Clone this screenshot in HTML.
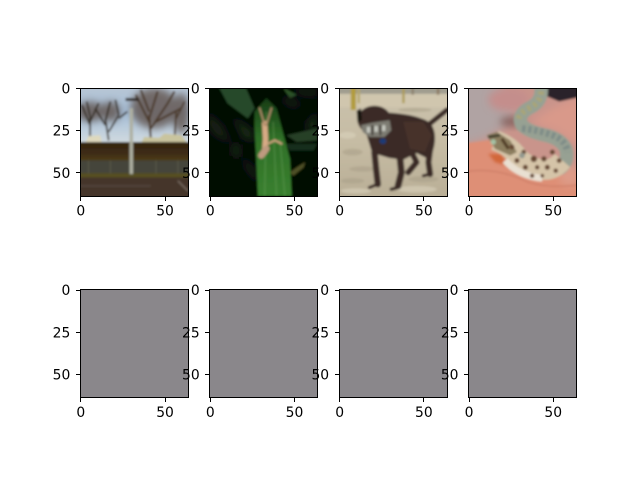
<!DOCTYPE html>
<html>
<head>
<meta charset="utf-8">
<title>Image grid</title>
<style>
html,body{margin:0;padding:0;background:#fff;width:640px;height:480px;overflow:hidden}
svg text{font-family:"DejaVu Sans","Liberation Sans",sans-serif;font-size:13.89px;fill:#000}
</style>
</head>
<body>
<svg id="figure" xmlns="http://www.w3.org/2000/svg" width="640" height="480" viewBox="0 0 640 480" style="display:block">
<defs>
<filter id="soft" x="-10%" y="-10%" width="120%" height="120%"><feGaussianBlur stdDeviation="0.7"/></filter>
<filter id="softer" x="-40%" y="-40%" width="180%" height="180%"><feGaussianBlur stdDeviation="2.2"/></filter>
<linearGradient id="sky1" x1="0" y1="0" x2="0" y2="1"><stop offset="0" stop-color="#bcc8d4"/><stop offset=".5" stop-color="#a5bed8"/><stop offset="1" stop-color="#d5dde0"/></linearGradient>
<linearGradient id="hedge1" x1="0" y1="0" x2="0" y2="1"><stop offset="0" stop-color="#33230f"/><stop offset=".6" stop-color="#3e2c14"/><stop offset="1" stop-color="#4f3f1b"/></linearGradient>
<linearGradient id="leaf2" x1="0" y1="0" x2="0" y2="1"><stop offset="0" stop-color="#173c16"/><stop offset=".4" stop-color="#2f6f27"/><stop offset="1" stop-color="#39802f"/></linearGradient>
<linearGradient id="sand3" x1="0" y1="0" x2="0" y2="1"><stop offset="0" stop-color="#cbc3ae"/><stop offset=".5" stop-color="#c6bca4"/><stop offset="1" stop-color="#b8ad95"/></linearGradient>
</defs>

<svg id="photo-0" viewBox="0 0 64 64" preserveAspectRatio="none">
<g filter="url(#soft)">
<rect x="-4" y="-4" width="72" height="38" fill="url(#sky1)"/>
<g fill="#5b4c42" opacity=".75" filter="url(#softer)"><ellipse cx="6" cy="14" rx="9" ry="6"/><ellipse cx="18" cy="14" rx="6" ry="6"/><ellipse cx="44" cy="12" rx="14" ry="12"/><ellipse cx="60" cy="15" rx="5" ry="12"/></g>
<g fill="none" stroke="#33291f" stroke-width="1">
<path d="M6 31L6 17M6 22L1 10M6 20L11 9M6 17L4 8"/>
<path d="M17 31L15 18M15 22L9 12M15 20L18 8M17 26L23 16M23 16L21 7M23 18L28 14"/>
</g>
<g fill="none" stroke="#4c3a2c" stroke-width="1.2">
<path d="M42 31L41 16M41 20L33 4M41 18L46 2M42 24L52 9M52 9L56 2M45 20L60 12M41 14L36 1"/>
<path d="M56 31L57 14M57 18L62 8" stroke-width="1"/>
</g>
<path d="M3 33L5 28.5L12 28L13 33Z" fill="#ded9bd"/>
<path d="M36 33L38 29L47 29.5L50 27L60 28L64 33Z" fill="#c9c49e"/>
<rect x="-4" y="32" width="72" height="11.5" fill="url(#hedge1)"/>
<rect x="-4" y="43" width="72" height="9" fill="#45443a"/>
<g stroke="#5e5e4f" stroke-width=".5"><path d="M5 43V51M18 43V51M30 43V51M45 43V51M58 43V51"/></g>
<rect x="-4" y="50.5" width="72" height="2.6" fill="#565020"/>
<rect x="-4" y="53" width="72" height="15" fill="#45342b"/>
<path d="M0 58H42" stroke="#564a3f" stroke-width=".7"/>
<path d="M58 55L64 61" stroke="#7c7064" stroke-width=".8"/>
<rect x="29.4" y="12" width="2" height="39" fill="#aeb0a2"/>
<path d="M27 6.8H35" stroke="#2a241e" stroke-width="1.6"/>
</g>
</svg>

<svg id="photo-1" viewBox="0 0 64 64" preserveAspectRatio="none">
<g filter="url(#soft)">
<rect x="-4" y="-4" width="72" height="72" fill="#060805"/>
<path d="M5 -2L21 -2L27 12L23 18L11 9Z" fill="#27492a"/>
<g filter="url(#softer)" opacity=".8">
<path d="M0 15L8 22L13 33L3 28L-2 20Z" fill="#14261a"/>
<path d="M14 17L25 24L28 32L20 30Z" fill="#16301a"/>
<path d="M14 33L18 34L18 41L14 40Z" fill="#1d3a1c"/>
<path d="M20 40L29 50L28 56L22 48Z" fill="#12261a"/>
</g>
<path d="M44 0L52 4L48 6Z" fill="#345c2c"/>
<g filter="url(#softer)" opacity=".8">
<path d="M50 0L64 0L64 5L54 4Z" fill="#14241a"/>
<path d="M46 4L54 9L52 12L44 9Z" fill="#13241a"/>
<path d="M58 20L64 14L64 24L58 27Z" fill="#16301f"/>
</g>
<path d="M46 28L64 24L64 31L52 32Z" fill="#273f25"/>
<path d="M45 33L64 33L62 37L48 37Z" fill="#172f1a"/>
<path d="M48 50L52 47L57 44L56 47L50 52Z" fill="#4f5127"/>
<path d="M34 6L40 12L44 27L48 42L49 64L29 64L28 42L27 24L27 14Z" fill="url(#leaf2)"/>
<g stroke="#7fb268" stroke-width=".4" opacity=".6" fill="none"><path d="M34 14L33 64M38 20L40 64M42 30L45 64"/></g>
<g fill="none" stroke="#c9a07c" stroke-linecap="round">
<path d="M33 38L33.5 30L33 21" stroke-width="3.2" stroke="#d7aa85"/>
<path d="M31 40L34 36" stroke-width="3.8" stroke="#bf9a7f"/>
<path d="M33 22L30 12" stroke-width="1.1" stroke="#ab8a68"/>
<path d="M34 22L37 12" stroke-width="1.1" stroke="#ab8a68"/>
<path d="M35 33L39 31L43 33" stroke-width="1.2"/>
</g>
</g>
</svg>

<svg id="photo-2" viewBox="0 0 64 64" preserveAspectRatio="none">
<g filter="url(#soft)">
<rect x="-4" y="-4" width="72" height="72" fill="url(#sand3)"/>
<rect x="-4" y="-4" width="72" height="7.5" fill="#a09d8f"/>
<rect x="-4" y="3.5" width="72" height="8" fill="#d0c6ae"/>
<g fill="#a99f88" opacity=".55"><ellipse cx="8" cy="38" rx="6" ry="2"/><ellipse cx="14" cy="48" rx="8" ry="1.6"/><ellipse cx="50" cy="54" rx="9" ry="1.8"/><ellipse cx="8" cy="55" rx="7" ry="1.6"/><ellipse cx="45" cy="13" rx="10" ry="1.2"/></g>
<g fill="#dbd3bd" opacity=".6"><ellipse cx="46" cy="60" rx="12" ry="2"/><ellipse cx="10" cy="61" rx="9" ry="1.6"/><ellipse cx="5" cy="28" rx="5" ry="2"/></g>
<rect x="7" y="-2" width="3" height="15" fill="#b29c3c"/>
<rect x="11" y="0" width="1.4" height="9" fill="#b5a76a"/>
<rect x="37.5" y="-2" width="1.4" height="11" fill="#ad9c57"/>
<rect x="43" y="-2" width="1.4" height="6" fill="#8d826e"/>
<rect x="58" y="-2" width="1.4" height="6" fill="#8d7a62"/>
<g fill="#3a2a26" stroke="#3a2a26" stroke-linecap="round" stroke-linejoin="round">
<ellipse cx="21" cy="19" rx="10" ry="8.5" stroke="none"/>
<path d="M24 15Q40 15 50 19Q58 22 56 34L54 42L46 38L38 42L30 41L20 38L17 28Z" stroke-width="1"/>
<path d="M54 21L64 13" stroke-width="3" fill="none"/>
<path d="M21 38L22 48L23 57" stroke-width="3.8" fill="none"/>
<path d="M23 57L18 59" stroke-width="1.8" fill="none"/>
<path d="M36 40L37 50L35 58" stroke-width="4" fill="none"/>
<path d="M35 59L31 60" stroke-width="2" fill="none"/>
<path d="M43 38L46 44L41 50" stroke-width="3.4" fill="none"/>
<path d="M54 36L53 44L54 51" stroke-width="3.6" fill="none"/>
<path d="M54 51L50 52" stroke-width="1.8" fill="none"/>
</g>
<path d="M10.5 13.5L13 12L13.5 19L11 20.5Z" fill="#191210"/>
<path d="M38 20L50 20L55 28L51 38L42 36Z" fill="#46332b"/>
<path d="M13 22L20 20.5L30 19L31 25L27 29L18 29L14 26Z" fill="#7d7c72"/>
<g fill="#c6c8bf"><rect x="16.5" y="23" width="2" height="3.5"/><rect x="21" y="22.5" width="2" height="3.5"/><rect x="25.5" y="22" width="2" height="3.5"/></g>
<g fill="#38322e"><rect x="19.3" y="22" width="1" height="6"/><rect x="24" y="22" width="1" height="6"/></g>
<ellipse cx="26" cy="31.5" rx="2" ry="1.7" fill="#1e3a76"/>
</g>
</svg>

<svg id="photo-3" viewBox="0 0 64 64" preserveAspectRatio="none">
<g filter="url(#soft)">
<rect x="-4" y="-4" width="72" height="72" fill="#c9948b"/>
<path d="M-4 -4H18L28 14L24 22L10 30L-4 34Z" fill="#b0a3a3" filter="url(#softer)"/>
<ellipse cx="24" cy="7" rx="12" ry="7" fill="#c48e8c" filter="url(#softer)"/>
<ellipse cx="26" cy="20" rx="7" ry="3" fill="#86625f" filter="url(#softer)"/>
<path d="M38 20L50 12L66 5L68 36L54 26Z" fill="#d9998a" filter="url(#softer)"/>
<path d="M44 -4H68V5L54 8L47 5Z" fill="#2b2329"/>
<path d="M-4 33L12 31L28 38L48 54L68 48V68H-4Z" fill="#de8f76"/>
<ellipse cx="60" cy="52" rx="6" ry="6" fill="#dd9b88" filter="url(#softer)"/>
<path d="M-4 50Q16 46 36 56Q50 60 68 57" fill="none" stroke="#cf8069" stroke-width=".8"/>
<path d="M12 39L20 39L23 46L16 44Z" fill="#d2673a" filter="url(#soft)"/>
<path d="M43 -2Q45 8 36 12Q29 16 32 22Q36 26 46 28Q55 30 58 36Q60 44 54 48" fill="none" stroke="#97a193" stroke-width="8"/>
<path d="M43 -2Q45 8 36 12Q29 16 30 20" fill="none" stroke="#a9a577" stroke-width="3.5" stroke-dasharray="2 2"/>
<path d="M32 24Q42 25 50 28Q58 31 59 38" fill="none" stroke="#7f8c88" stroke-width="4" stroke-dasharray="2 1.6"/>
<path d="M16 31Q24 34 28 39Q33 46 42 48Q50 50 56 43" fill="none" stroke="#d5c4a8" stroke-width="12"/>
<path d="M22 43Q30 52 44 53.5" fill="none" stroke="#e9e0d2" stroke-width="4"/>
<path d="M11 28L17 26L25 31L29 38L25 40L16 36Z" fill="#8c7e5e"/>
<path d="M12 29L19 28" stroke="#3a3a2a" stroke-width="1.5"/>
<circle cx="15" cy="32" r="1.6" fill="#a5c2a5"/>
<path d="M20 30L24 36" stroke="#4f3a24" stroke-width="1.8"/>
<g fill="#664630">
<circle cx="26" cy="35" r="1.5"/><circle cx="33" cy="38" r="1.4"/><circle cx="39" cy="42" r="1.9"/><circle cx="45" cy="42" r="1.6"/><circle cx="50" cy="38" r="1.5"/><circle cx="54" cy="43" r="1.4"/><circle cx="29" cy="43" r="1.5"/><circle cx="34" cy="47" r="1.5"/><circle cx="41" cy="47" r="1.3"/><circle cx="47" cy="47" r="1.5"/><circle cx="38" cy="52" r="1.3"/><circle cx="44" cy="52" r="1.1"/><circle cx="52" cy="49" r="1.3"/>
</g>
<circle cx="32" cy="40" r="1.7" fill="#93998f"/>
</g>
</svg>

<script>
var imageSize = 64;
var xTickValues = [0, 50];
var yTickValues = [0, 25, 50];
var axesLefts = [80, 209.4, 338.8, 468.2];
var axesTops = [87.7, 289.3];
var axesSide = 107.8;
var blankColor = '#8a878b';
var svgNS = 'http://www.w3.org/2000/svg';
var fig = document.getElementById('figure');

function xScale(left, v) { return left + (v + 0.5) / imageSize * axesSide; }
function yScale(top, v) { return top + (v + 0.5) / imageSize * axesSide; }
function snap(v) { return Math.floor(v) + 0.5; }
function make(tag, attrs) {
  var el = document.createElementNS(svgNS, tag);
  for (var k in attrs) { el.setAttribute(k, attrs[k]); }
  return el;
}

function drawAxes(row, col) {
  var left = axesLefts[col], top = axesTops[row];
  var idx = row * 4 + col;
  var g = make('g', {});
  
  
  fig.appendChild(g);

  var x0 = Math.round(left), y0 = Math.round(top);
  var x1 = Math.round(left + axesSide), y1 = Math.round(top + axesSide);

  if (row === 0) {
    var photo = document.getElementById('photo-' + col);
    photo.setAttribute('x', x0);
    photo.setAttribute('y', y0);
    photo.setAttribute('width', x1 - x0);
    photo.setAttribute('height', y1 - y0);
    g.appendChild(photo);
  } else {
    var blank = make('rect', { x: x0, y: y0, width: x1 - x0, height: y1 - y0, fill: blankColor });
    
    
    g.appendChild(blank);
  }

  var frame = make('rect', { x: x0 + 0.5, y: y0 + 0.5, width: x1 - x0, height: y1 - y0, fill: 'none', stroke: '#000', 'stroke-width': 1 });
  
  
  g.appendChild(frame);

  xTickValues.forEach(function (v) {
    var x = snap(xScale(left, v));
    var tick = make('line', { x1: x, x2: x, y1: y1 + 1, y2: y1 + 5, stroke: '#000', 'stroke-width': 1 });
    
    
    g.appendChild(tick);
    var label = make('text', { x: xScale(left, v), y: top + axesSide + 20, 'text-anchor': 'middle' });
    
    
    label.textContent = v;
    g.appendChild(label);
  });

  yTickValues.forEach(function (v) {
    var y = snap(yScale(top, v));
    var tick = make('line', { x1: x0 - 4, x2: x0 + 0.5, y1: y, y2: y, stroke: '#000', 'stroke-width': 1 });
    
    
    g.appendChild(tick);
    var label = make('text', { x: left - 9.7, y: yScale(top, v) + 5.05, 'text-anchor': 'end' });
    
    
    label.textContent = v;
    g.appendChild(label);
  });
}

for (var r = 0; r < axesTops.length; r++) {
  for (var c = 0; c < axesLefts.length; c++) {
    drawAxes(r, c);
  }
}
</script>
</svg>
</body>
</html>
